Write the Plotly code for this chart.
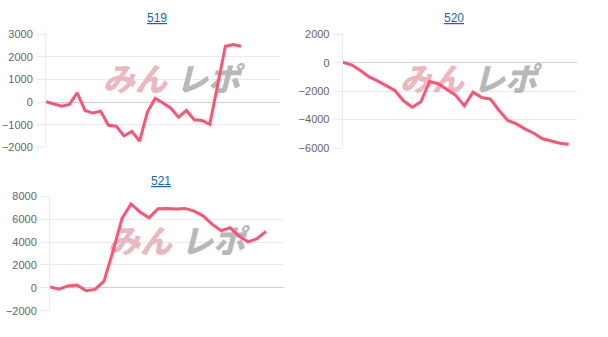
import plotly.graph_objects as go

W, H = 608, 337

titles = ["519", "520", "521"]
n_categories = [31, 28, 27]
values_519 = [17, -82, -180, -97, 415, -366, -480, -395, -1020, -1060, -1490, -1290,
              -1720, -437, 173, -40, -267, -665, -366, -778, -807, -977, 750, 2470, 2545, 2470]
values_520 = [30, -150, -530, -980, -1280, -1590, -1950, -2680, -3130, -2750, -1320, -1480,
              -1860, -2290, -3020, -2070, -2450, -2560, -3360, -4060, -4300, -4670, -4960,
              -5350, -5500, -5660, -5730]
values_521 = [85, -110, 170, 250, -250, -140, 590, 3200, 6070, 7330, 6630, 6120, 6910,
              6940, 6880, 6940, 6710, 6290, 5560, 5000, 5250, 4520, 4020, 4300, 4940]
series = [values_519, values_520, values_521]
y_ranges = [(-2000, 3000), (-6000, 2000), (-2000, 8000)]
y_dticks = [1000, 2000, 2000]

# plot areas in pixels: (left, right, top, bottom)
boxes = [(46, 280, 29.3, 146.7), (342.7, 577.3, 29.3, 147.3), (50, 284, 197.3, 316)]
title_pos = [(157, 12), (454, 12), (161, 181)]
logo_pos = [(172, 80), (469, 80), (177, 248)]

LINE = "#ff5374"
GRID = "#ebebeb"


def px_to_data(i, px, py):
    l, r, t, b = boxes[i]
    x0, x1 = 0, n_categories[i] - 1
    y0, y1 = y_ranges[i]
    return (x0 + (px - l) / (r - l) * (x1 - x0), y1 - (py - t) / (b - t) * (y1 - y0))


fig = go.Figure()
for i, vals in enumerate(series):
    k = "" if i == 0 else str(i + 1)
    lx, ly = logo_pos[i]
    for dx, word, col in [(-37, "みん", "rgb(234,184,189)"), (36, "レポ", "rgb(184,184,184)")]:
        ax, ay = px_to_data(i, lx + dx, ly)
        fig.add_trace(go.Scatter(
            x=[ax], y=[ay], mode="text", text=["<i>" + word + "</i>"],
            textposition="middle center",
            textfont=dict(family="Noto Sans CJK JP", size=32, color=col, weight=900),
            xaxis="x" + k, yaxis="y" + k, hoverinfo="skip", showlegend=False))
    fig.add_trace(go.Scatter(
        x=list(range(len(vals))), y=vals, mode="lines",
        line=dict(color=LINE, width=3), xaxis="x" + k, yaxis="y" + k,
        hoverinfo="skip", showlegend=False))
    l, r, t, b = boxes[i]
    fig.layout["xaxis" + k] = dict(
        domain=[l / W, r / W], range=[0, n_categories[i] - 1], anchor="y" + k,
        showgrid=False, zeroline=False, showticklabels=False, showline=False, fixedrange=True)
    fig.layout["yaxis" + k] = dict(
        domain=[1 - b / H, 1 - t / H], range=list(y_ranges[i]), anchor="x" + k,
        dtick=y_dticks[i], tick0=0, gridcolor=GRID, gridwidth=1,
        zeroline=True, zerolinecolor="#cfcfcf", zerolinewidth=1,
        showline=True, linecolor=GRID, linewidth=1,
        ticks="outside", ticklen=9, tickcolor=GRID, tickwidth=1,
        tickfont=dict(family="Liberation Sans", size=11, color="#666666"),
        ticklabelstandoff=1, fixedrange=True)

annotations = []
for i in range(3):
    tx, ty = title_pos[i]
    annotations.append(dict(
        text="<u>" + titles[i] + "</u>", x=tx / W, y=1 - ty / H, xref="paper", yref="paper",
        xanchor="center", yanchor="middle", showarrow=False,
        font=dict(family="Liberation Sans", size=12, color="#1565c0")))

fig.update_layout(
    width=W, height=H, margin=dict(l=0, r=0, t=0, b=0),
    paper_bgcolor="white", plot_bgcolor="white",
    annotations=annotations, showlegend=False)

fig.write_html("out.html", config={"displayModeBar": False})
